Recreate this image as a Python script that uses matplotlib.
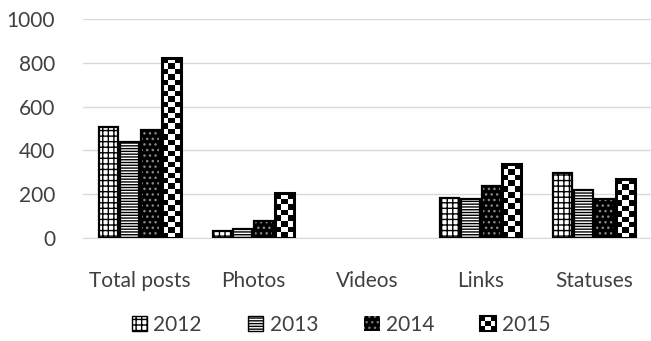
import numpy as np
import matplotlib
matplotlib.use("Agg")
import matplotlib.pyplot as plt
from matplotlib.patches import Rectangle
from matplotlib.legend_handler import HandlerBase

categories = ["Total posts", "Photos", "Videos", "Links", "Statuses"]
years = ["2012", "2013", "2014", "2015"]
v2012 = [505, 32, 0, 183, 298]
v2013 = [438, 40, 0, 176, 219]
v2014 = [495, 77, 0, 237, 178]
v2015 = [820, 205, 0, 338, 269]
yticks = [0, 200, 400, 600, 800, 1000]

series = [v2012, v2013, v2014, v2015]

plt.rcParams['font.family'] = ['Lato', 'DejaVu Sans']
plt.rcParams['hatch.linewidth'] = 1.0
txt = '#404040'

fig = plt.figure(figsize=(6.51, 3.41), dpi=100)
ax = fig.add_axes([83/651, 1-238/341, (651-83)/651, (238-19)/341])

x = np.arange(len(categories))
bw = 0.167
step = 0.184
ax.set_xlim(-0.5, len(categories) - 0.5)
ax.set_ylim(0, 1000)

def checker_fill(bar, cell_px):
    x0, y0 = bar.get_x(), bar.get_y()
    w, h = bar.get_width(), bar.get_height()
    if h <= 0:
        return
    p0 = ax.transData.transform((x0, y0))
    p1 = ax.transData.transform((x0 + w, y0 + h))
    nx = max(1, int(round((p1[0] - p0[0]) / cell_px)))
    ny = max(1, int(round((p1[1] - p0[1]) / cell_px)))
    ii, jj = np.indices((ny, nx))
    img = ((ii + jj) % 2).astype(float)
    im = ax.imshow(img, extent=(x0, x0 + w, y0, y0 + h), cmap='gray',
                   interpolation='nearest', aspect='auto', zorder=2, vmin=0, vmax=1)
    im.set_clip_path(bar)

class CheckerHandler(HandlerBase):
    def create_artists(self, legend, orig_handle, xdescent, ydescent, width, height, fontsize, trans):
        arts = []
        n = 3
        cw, ch = width / n, height / n
        arts.append(Rectangle((-xdescent, -ydescent), width, height, facecolor='white',
                              edgecolor='black', linewidth=1.5, transform=trans))
        for i in range(n):
            for j in range(n):
                if (i + j) % 2 == 0:
                    arts.append(Rectangle((-xdescent + i * cw, -ydescent + j * ch), cw, ch,
                                          facecolor='black', edgecolor='none', transform=trans))
        return arts

fig.canvas.draw()
handles = []
for k, vals in enumerate(series):
    pos = x + (k - 1.5) * step
    lw = [1.6 if v > 0 else 0 for v in vals]
    if k == 0:
        ax.bar(pos, vals, bw, facecolor='white', edgecolor='black', hatch='+++',
               linewidth=lw, zorder=3)
        h = Rectangle((0, 0), 1, 1, facecolor='white', edgecolor='black', hatch='+++', linewidth=1)
    elif k == 1:
        ax.bar(pos, vals, bw, facecolor='white', edgecolor='black', hatch='------',
               linewidth=lw, zorder=3)
        h = Rectangle((0, 0), 1, 1, facecolor='white', edgecolor='black', hatch='------', linewidth=1)
    elif k == 2:
        ax.bar(pos, vals, bw, facecolor='black', edgecolor='#888888', hatch='...',
               linewidth=0, zorder=2)
        ax.bar(pos, vals, bw, facecolor='none', edgecolor='black', linewidth=lw, zorder=3)
        h = Rectangle((0, 0), 1, 1, facecolor='black', edgecolor='#777777', hatch='...', linewidth=0)
    else:
        bars = ax.bar(pos, vals, bw, facecolor='white', edgecolor='none', linewidth=0, zorder=1)
        for b in bars:
            checker_fill(b, 5.5)
        ax.bar(pos, vals, bw, facecolor='none', edgecolor='black',
               linewidth=[2.2 if v > 0 else 0 for v in vals], zorder=3)
        h = Rectangle((0, 0), 1, 1)
    handles.append(h)

ax.set_yticks(yticks)
ax.set_yticklabels([str(t) for t in yticks], fontsize=15, color=txt)
ax.set_xticks(x)
ax.set_xticklabels(categories, fontsize=15, color=txt)
ax.tick_params(axis='both', length=0)
ax.tick_params(axis='x', pad=24)
ax.tick_params(axis='y', pad=20)
ax.grid(axis='y', color='#d9d9d9', linewidth=1)
ax.set_axisbelow(True)
for s in ['top', 'right', 'left']:
    ax.spines[s].set_visible(False)
ax.spines['bottom'].set_color('#d9d9d9')
ax.spines['bottom'].set_zorder(0)

fig.legend(handles, years, loc='center', bbox_to_anchor=(0.524, 1 - 325/341), ncol=4,
           frameon=False, fontsize=15, handlelength=0.75, handleheight=0.75,
           handletextpad=0.3, columnspacing=2.2, labelcolor=txt,
           handler_map={handles[3]: CheckerHandler()})

fig.savefig('out.png', dpi=100)
